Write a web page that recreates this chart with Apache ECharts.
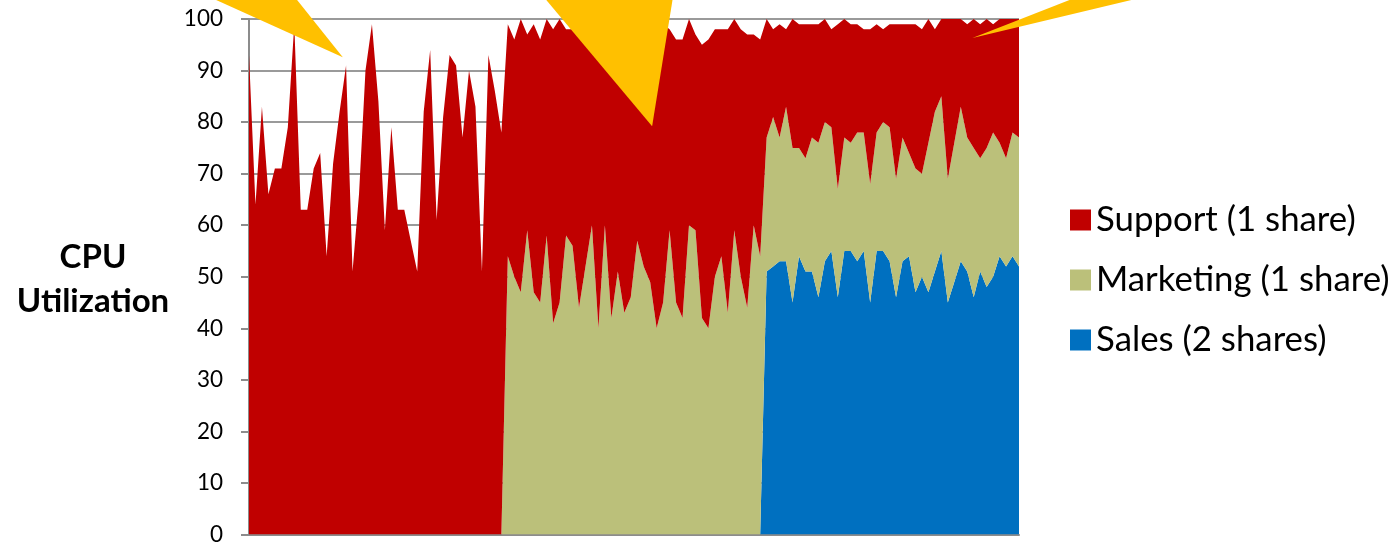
<!DOCTYPE html>
<html>
<head>
<meta charset="utf-8">
<script src="https://cdn.jsdelivr.net/npm/echarts@6/dist/echarts.min.js"></script>
<style>
  html, body { margin: 0; padding: 0; background: #ffffff; }
  #chart { width: 1394px; height: 546px; }
</style>
</head>
<body>
<div id="chart"></div>
<script>
// Sample index (one per second of the run)
const seconds = Array.from({ length: 120 }, (_, i) => String(i + 1));

const seriesNames = ['Support (1 share)', 'Marketing (1 share)', 'Sales (2 shares)'];

// CPU utilization (%) per group, stacked bottom-up: Sales, Marketing, Support
const sales = [
  0, 0, 0, 0, 0, 0, 0, 0, 0, 0, 0, 0, 0, 0, 0, 0, 0, 0, 0, 0,
  0, 0, 0, 0, 0, 0, 0, 0, 0, 0, 0, 0, 0, 0, 0, 0, 0, 0, 0, 0,
  0, 0, 0, 0, 0, 0, 0, 0, 0, 0, 0, 0, 0, 0, 0, 0, 0, 0, 0, 0,
  0, 0, 0, 0, 0, 0, 0, 0, 0, 0, 0, 0, 0, 0, 0, 0, 0, 0, 0, 0,
  51, 52, 53, 53, 45, 54, 51, 51, 46, 53, 55, 46, 55, 55, 53, 55, 45, 55, 55, 53,
  46, 53, 54, 47, 50, 47, 51, 55, 45, 49, 53, 51, 46, 51, 48, 50, 54, 52, 54, 52
];

const marketing = [
  0, 0, 0, 0, 0, 0, 0, 0, 0, 0, 0, 0, 0, 0, 0, 0, 0, 0, 0, 0,
  0, 0, 0, 0, 0, 0, 0, 0, 0, 0, 0, 0, 0, 0, 0, 0, 0, 0, 0, 0,
  54, 50, 47, 59, 47, 45, 58, 41, 45, 58, 56, 44, 52, 60, 40, 60, 42, 51, 43, 46,
  57, 52, 49, 40, 45, 59, 45, 42, 60, 59, 42, 40, 50, 54, 43, 59, 50, 44, 60, 54,
  26, 29, 24, 30, 30, 21, 22, 26, 30, 27, 24, 21, 22, 21, 25, 23, 23, 23, 25, 26,
  23, 24, 20, 24, 20, 29, 31, 30, 24, 27, 30, 26, 29, 22, 27, 28, 22, 21, 24, 25
];

const support = [
  93, 64, 83, 66, 71, 71, 79, 99, 63, 63, 71, 74, 54, 72, 82, 91, 51, 66, 90, 99,
  84, 59, 79, 63, 63, 57, 51, 82, 94, 61, 81, 93, 91, 77, 90, 83, 51, 93, 86, 78,
  45, 46, 53, 38, 52, 51, 42, 57, 55, 40, 42, 55, 46, 40, 57, 39, 56, 48, 55, 53,
  41, 48, 48, 58, 54, 39, 51, 54, 40, 38, 53, 56, 48, 44, 55, 41, 48, 53, 37, 42,
  23, 17, 22, 15, 25, 24, 26, 22, 23, 20, 19, 32, 23, 23, 21, 20, 30, 21, 18, 20,
  30, 22, 25, 28, 28, 24, 16, 15, 31, 24, 17, 22, 25, 26, 25, 21, 24, 27, 22, 23
];

// Callout pointers: tip in (sample index, %) and the two base corners as pixel offsets from the tip
const calloutShapes = [
  { tip: [14.5, 92.6], base: [[-133, -60], [-48, -60]] },
  { tip: [62.3, 79.2], base: [[-109, -130], [21, -130]] },
  { tip: [111.8, 96.3], base: [[102, -40], [167, -40]] }
];

const colors = {
  support: '#C00000',
  marketing: '#BBC07A',
  sales: '#0070C0',
  callout: '#FFC000',
  axis: '#8C8C8C',
  grid: '#9A9A9A'
};

const FONT = 'Lato, "Open Sans", sans-serif';

const chart = echarts.init(document.getElementById('chart'), null, { renderer: 'canvas' });

function areaSeries(name, data, color) {
  return {
    name: name,
    type: 'line',
    stack: 'cpu',
    data: data,
    symbol: 'none',
    smooth: false,
    color: color,
    lineStyle: { width: 0 },
    areaStyle: { color: color, opacity: 1 },
    emphasis: { disabled: true }
  };
}

chart.setOption({
  animation: false,
  backgroundColor: '#ffffff',
  grid: { left: 249, right: 375, top: 19, bottom: 10, containLabel: false },
  legend: {
    orient: 'vertical',
    left: 1065,
    top: 197,
    icon: 'rect',
    itemWidth: 21,
    itemHeight: 21,
    itemGap: 24,
    selectedMode: false,
    data: seriesNames,
    textStyle: {
      fontFamily: FONT,
      fontSize: 34.8,
      color: '#000000',
      lineHeight: 36
    }
  },
  xAxis: {
    type: 'category',
    data: seconds,
    boundaryGap: false,
    axisLine: { show: true, lineStyle: { color: colors.axis, width: 2 } },
    axisTick: { show: false },
    axisLabel: { show: false },
    splitLine: { show: false }
  },
  yAxis: {
    type: 'value',
    min: 0,
    max: 100,
    interval: 10,
    axisLine: { show: true, lineStyle: { color: colors.axis, width: 2 } },
    axisTick: { show: true, inside: false, length: 8, lineStyle: { color: colors.axis, width: 2 } },
    axisLabel: { margin: 26, fontFamily: FONT, fontSize: 22.5, color: '#000000' },
    splitLine: { show: true, lineStyle: { color: colors.grid, width: 2 } }
  },
  series: [
    areaSeries(seriesNames[2], sales, colors.sales),
    areaSeries(seriesNames[1], marketing, colors.marketing),
    areaSeries(seriesNames[0], support, colors.support)
  ]
});

// Place the axis title and the callout pointers once the grid is laid out
function toPixel(idx, val) {
  const i0 = Math.floor(idx);
  const p0 = chart.convertToPixel({ gridIndex: 0 }, [i0, val]);
  const p1 = chart.convertToPixel({ gridIndex: 0 }, [i0 + 1, val]);
  return [p0[0] + (p1[0] - p0[0]) * (idx - i0), p0[1]];
}

const graphics = calloutShapes.map(function (c) {
  const t = toPixel(c.tip[0], c.tip[1]);
  return {
    type: 'polygon',
    z: 100,
    silent: true,
    shape: {
      points: [
        [t[0] + c.base[0][0], t[1] + c.base[0][1]],
        [t[0] + c.base[1][0], t[1] + c.base[1][1]],
        t
      ]
    },
    style: { fill: colors.callout, stroke: null }
  };
});

graphics.push({
  type: 'text',
  x: 93,
  y: 279,
  z: 100,
  silent: true,
  style: {
    text: 'CPU\nUtilization',
    fontFamily: FONT,
    fontSize: 33,
    fontWeight: 'bold',
    fill: '#000000',
    align: 'center',
    verticalAlign: 'middle',
    lineHeight: 44
  }
});

chart.setOption({ graphic: graphics });
</script>
</body>
</html>
